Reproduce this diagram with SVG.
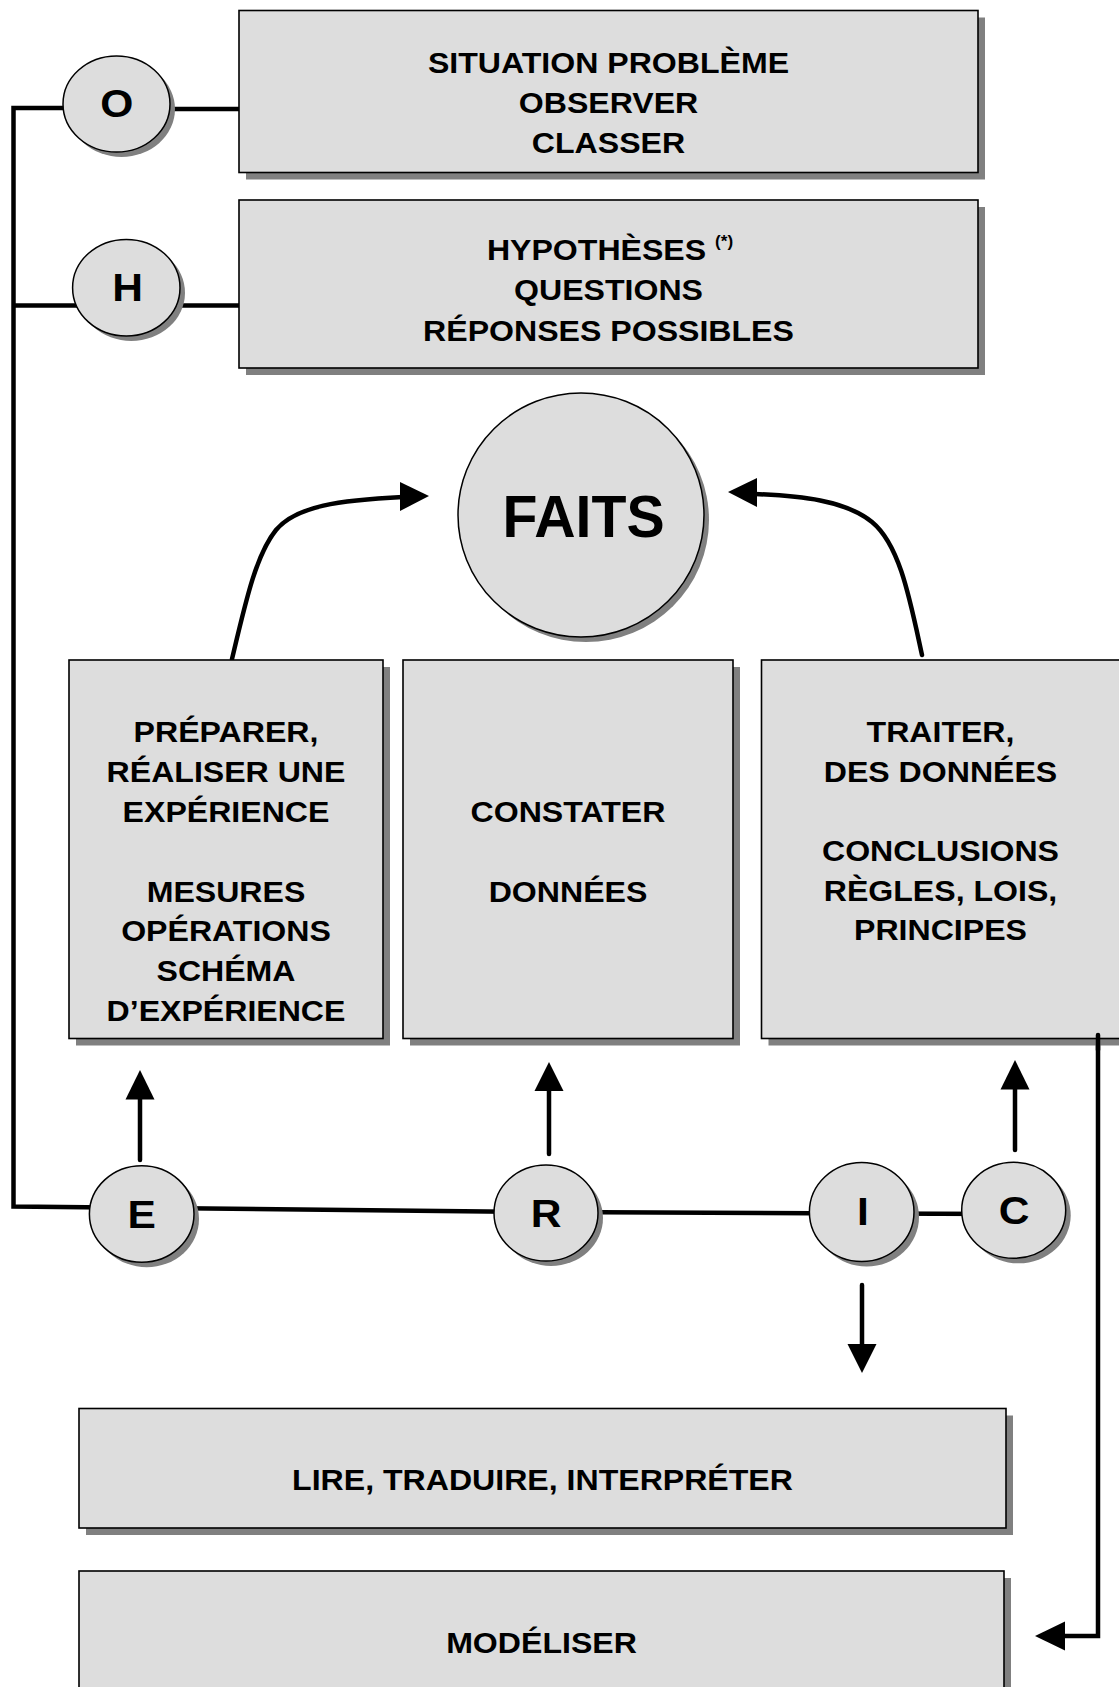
<svg xmlns="http://www.w3.org/2000/svg" width="1119" height="1687" viewBox="0 0 1119 1687">
  <style>
    .box { fill: #dddddd; stroke: #000; stroke-width: 1.6; }
    .shadow { fill: #808080; }
    .node { fill: #dddddd; stroke: #000; stroke-width: 1.5; }
    .bt { font-family: "Liberation Sans", Arial, Helvetica, sans-serif; font-weight: bold; font-size: 30px; text-anchor: middle; fill: #000; }
    .lt { font-family: "Liberation Sans", Arial, Helvetica, sans-serif; font-weight: bold; font-size: 38px; text-anchor: middle; fill: #000; }
    .ft { font-family: "Liberation Sans", Arial, Helvetica, sans-serif; font-weight: bold; font-size: 59px; text-anchor: middle; fill: #000; }
    .wire { fill: none; stroke: #000; stroke-width: 4.5; stroke-linejoin: miter; }
    .shaft { fill: none; stroke: #000; stroke-width: 4.5; stroke-linecap: round; }
    .head { fill: #000; stroke: none; }
  </style>

  <!-- connectors (drawn beneath the nodes) -->
  <g id="connectors">
    <path class="wire" d="M116 108 H13.5 V1206.5 L546 1212 L862 1213.5 L1014 1214"/>
    <path class="wire" d="M116 109 H239"/>
    <path class="wire" d="M13.5 305.5 H239"/>
    <!-- vertical arrows from the bottom line -->
    <path class="shaft" d="M140 1160 V1097"/>
    <polygon class="head" points="140,1070 125.5,1099.5 154.5,1099.5"/>
    <path class="shaft" d="M549 1154 V1089"/>
    <polygon class="head" points="549,1062 534.5,1091 563.5,1091"/>
    <path class="shaft" d="M1015 1150 V1087"/>
    <polygon class="head" points="1015,1060 1000.5,1089.5 1029.5,1089.5"/>
    <path class="shaft" d="M862 1285 V1347"/>
    <polygon class="head" points="862,1373 847.5,1344 876.5,1344"/>
    <!-- curved arrows toward FAITS -->
    <path class="shaft" d="M232 659 C246 600 256 555 276 530 C296 506 340 500 403 497"/>
    <polygon class="head" points="429,496 400,482 400,511"/>
    <path class="shaft" d="M922 655 C910 600 900 545 872 522 C845 500 800 496 755 494"/>
    <polygon class="head" points="728,492 757,478 757,507"/>
    <!-- return line to MODÉLISER -->
    <path class="wire" d="M1098 1035 V1636 H1062" stroke-linecap="round"/>
    <polygon class="head" points="1035,1636 1065,1621.5 1065,1650.5"/>
  </g>

  <g id="box-situation">
    <rect class="shadow" x="246" y="17.5" width="739" height="162"/>
    <rect class="box" x="239" y="10.5" width="739" height="162"/>
    <text class="bt" transform="translate(608.5,72.7) scale(1.07,1)">SITUATION PROBLÈME</text>
    <text class="bt" transform="translate(608.5,112.7) scale(1.07,1)">OBSERVER</text>
    <text class="bt" transform="translate(608.5,152.7) scale(1.07,1)">CLASSER</text>
  </g>

  <g id="box-hypotheses">
    <rect class="shadow" x="246" y="207" width="739" height="168"/>
    <rect class="box" x="239" y="200" width="739" height="168"/>
    <text class="bt" transform="translate(610,260) scale(1.07,1)">HYPOTHÈSES <tspan font-size="16" dy="-13">(*)</tspan></text>
    <text class="bt" transform="translate(608.5,300) scale(1.07,1)">QUESTIONS</text>
    <text class="bt" transform="translate(608.5,341) scale(1.07,1)">RÉPONSES POSSIBLES</text>
  </g>

  <g id="node-o">
    <ellipse class="shadow" cx="121.5" cy="109" rx="53.5" ry="48"/>
    <ellipse class="node" cx="116.5" cy="104" rx="53.5" ry="48"/>
    <text class="lt" transform="translate(116.7,117) scale(1.12,1)">O</text>
  </g>

  <g id="node-h">
    <ellipse class="shadow" cx="131.3" cy="292.7" rx="53.7" ry="48.3"/>
    <ellipse class="node" cx="126.3" cy="287.7" rx="53.7" ry="48.3"/>
    <text class="lt" transform="translate(127.5,300.5) scale(1.12,1)">H</text>
  </g>

  <g id="node-faits">
    <ellipse class="shadow" cx="586" cy="520" rx="123" ry="122"/>
    <ellipse class="node" cx="581" cy="515" rx="123" ry="122"/>
    <text class="ft" transform="translate(583.5,537) scale(0.97,1)">FAITS</text>
  </g>

  <g id="box-experience">
    <rect class="shadow" x="76" y="667" width="314" height="378.5"/>
    <rect class="box" x="69" y="660" width="314" height="378.5"/>
    <text class="bt" transform="translate(226,742) scale(1.07,1)">PRÉPARER,</text>
    <text class="bt" transform="translate(226,781.5) scale(1.07,1)">RÉALISER UNE</text>
    <text class="bt" transform="translate(226,822) scale(1.07,1)">EXPÉRIENCE</text>
    <text class="bt" transform="translate(226,901.5) scale(1.07,1)">MESURES</text>
    <text class="bt" transform="translate(226,941) scale(1.07,1)">OPÉRATIONS</text>
    <text class="bt" transform="translate(226,981) scale(1.07,1)">SCHÉMA</text>
    <text class="bt" transform="translate(226,1020.5) scale(1.07,1)">D’EXPÉRIENCE</text>
  </g>

  <g id="box-constater">
    <rect class="shadow" x="410" y="667" width="330" height="378.5"/>
    <rect class="box" x="403" y="660" width="330" height="378.5"/>
    <text class="bt" transform="translate(568,822) scale(1.07,1)">CONSTATER</text>
    <text class="bt" transform="translate(568,901.5) scale(1.07,1)">DONNÉES</text>
  </g>

  <g id="box-traiter">
    <rect class="shadow" x="768.5" y="667" width="362" height="378.5"/>
    <rect class="box" x="761.5" y="660" width="362" height="378.5"/>
    <text class="bt" transform="translate(940.5,742) scale(1.07,1)">TRAITER,</text>
    <text class="bt" transform="translate(940.5,781.5) scale(1.07,1)">DES DONNÉES</text>
    <text class="bt" transform="translate(940.5,861) scale(1.07,1)">CONCLUSIONS</text>
    <text class="bt" transform="translate(940.5,900.5) scale(1.07,1)">RÈGLES, LOIS,</text>
    <text class="bt" transform="translate(940.5,940) scale(1.07,1)">PRINCIPES</text>
  </g>

  <!-- the return line passes over the bottom edge of the last box -->
  <path class="wire" d="M1098 1035 V1050" stroke-linecap="round"/>

  <g id="node-e">
    <ellipse class="shadow" cx="146.7" cy="1219" rx="52.3" ry="48.3"/>
    <ellipse class="node" cx="141.7" cy="1214" rx="52.3" ry="48.3"/>
    <text class="lt" transform="translate(141.7,1227.5) scale(1.12,1)">E</text>
  </g>

  <g id="node-r">
    <ellipse class="shadow" cx="551" cy="1218" rx="52" ry="48"/>
    <ellipse class="node" cx="546" cy="1213" rx="52" ry="48"/>
    <text class="lt" transform="translate(546,1227) scale(1.12,1)">R</text>
  </g>

  <g id="node-i">
    <ellipse class="shadow" cx="866.7" cy="1217" rx="52.3" ry="49.5"/>
    <ellipse class="node" cx="861.7" cy="1212" rx="52.3" ry="49.5"/>
    <text class="lt" transform="translate(863,1224.5) scale(1.12,1)">I</text>
  </g>

  <g id="node-c">
    <ellipse class="shadow" cx="1018.7" cy="1215.3" rx="52" ry="48"/>
    <ellipse class="node" cx="1013.7" cy="1210.3" rx="52" ry="48"/>
    <text class="lt" transform="translate(1014,1223.5) scale(1.12,1)">C</text>
  </g>

  <g id="box-lire">
    <rect class="shadow" x="86" y="1415.5" width="927" height="119.5"/>
    <rect class="box" x="79" y="1408.5" width="927" height="119.5"/>
    <text class="bt" transform="translate(542.5,1490) scale(1.07,1)">LIRE, TRADUIRE, INTERPRÉTER</text>
  </g>

  <g id="box-modeliser">
    <rect class="shadow" x="86" y="1578" width="925" height="130"/>
    <rect class="box" x="79" y="1571" width="925" height="130"/>
    <text class="bt" transform="translate(541.5,1653) scale(1.07,1)">MODÉLISER</text>
  </g>
</svg>
